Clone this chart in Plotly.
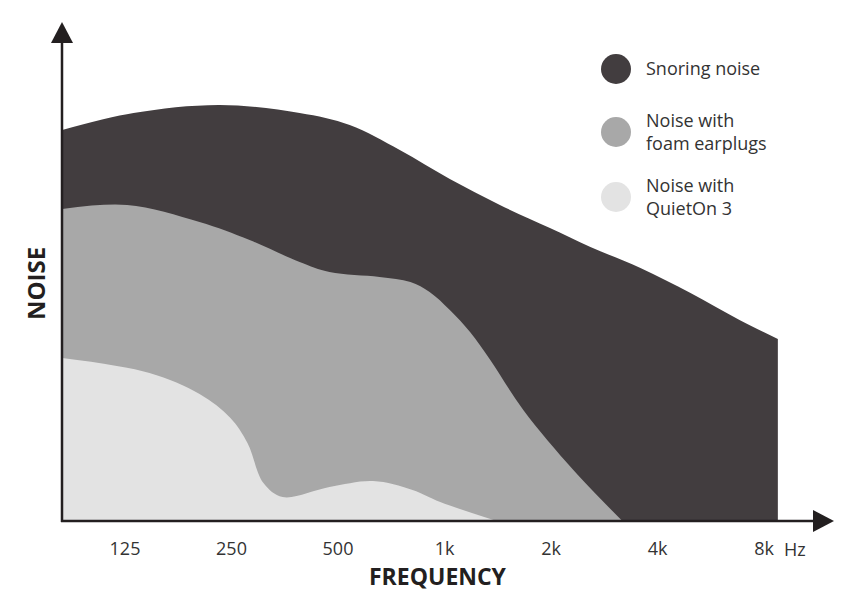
import plotly.graph_objects as go

# x positions in octave steps from 125 Hz (0 = 125 Hz, 6 = 8 kHz)
tick_labels = ["125", "250", "500", "1k", "2k", "4k", "8k"]
tick_pos = [0, 1, 2, 3, 4, 5, 6]

snoring_x = [-0.59, 0.08, 0.89, 1.64, 2.11, 2.58, 3.05, 3.52, 3.99, 4.37, 4.84, 5.31, 5.77, 6.13]
snoring_y = [391, 408, 416, 408, 396, 371, 342, 316, 293, 274, 253, 228, 201, 182]

foam_x = [-0.59, 0.02, 0.70, 1.17, 1.64, 1.92, 2.39, 2.68, 2.86, 3.05, 3.24, 3.43, 3.74, 4.21, 4.67]
foam_y = [312, 316, 299, 281, 259, 249, 244, 239, 229, 211, 189, 161, 111, 51, 0]

quieton_x = [-0.59, 0.23, 0.70, 0.99, 1.15, 1.30, 1.48, 1.92, 2.33, 2.70, 2.96, 3.49]
quieton_y = [163, 148, 127, 103, 78, 38, 24, 34, 40, 31, 19, 0]

series_names = ["Snoring noise", "Noise with<br>foam earplugs", "Noise with<br>QuietOn 3"]
colors = ["#423d3f", "#a8a8a8", "#e3e3e3"]
axis_color = "#231f20"
text_color = "#333333"
FONT = "Open Sans"

W, H = 858, 609
L, R, T, B = 62, 43, 35, 88
PW, PH = W - L - R, H - T - B


def px(x):
    return (x - L) / PW


def py(y):
    return (H - B - y) / PH


fig = go.Figure()
for xs, ys, name, c in [(snoring_x, snoring_y, series_names[0], colors[0]),
                        (foam_x, foam_y, series_names[1], colors[1]),
                        (quieton_x, quieton_y, series_names[2], colors[2])]:
    fig.add_trace(go.Scatter(
        x=xs, y=ys, name=name.replace("<br>", " "), mode="lines",
        line=dict(color=c, width=0, shape="spline", smoothing=1.0),
        fill="tozeroy", fillcolor=c, showlegend=False, hoverinfo="skip"))

shapes = []
# axes lines
shapes.append(dict(type="line", xref="paper", yref="paper", x0=px(62), x1=px(62),
                   y0=py(522), y1=py(40), line=dict(color=axis_color, width=2.5)))
shapes.append(dict(type="line", xref="paper", yref="paper", x0=px(61), x1=px(816),
                   y0=py(521), y1=py(521), line=dict(color=axis_color, width=2.5)))
# arrow heads
shapes.append(dict(type="path", xref="paper", yref="paper",
                   path=f"M {px(51)} {py(43)} L {px(73)} {py(43)} L {px(62)} {py(22)} Z",
                   fillcolor=axis_color, line=dict(width=0)))
shapes.append(dict(type="path", xref="paper", yref="paper",
                   path=f"M {px(813)} {py(510)} L {px(813)} {py(532)} L {px(834)} {py(521)} Z",
                   fillcolor=axis_color, line=dict(width=0)))

annotations = []
# legend
leg_y = [69, 132, 197]
for yy, name, c in zip(leg_y, series_names, colors):
    r = 15
    shapes.append(dict(type="circle", xref="paper", yref="paper",
                       x0=px(616 - r), x1=px(616 + r), y0=py(yy + r), y1=py(yy - r),
                       fillcolor=c, line=dict(width=0)))
    annotations.append(dict(xref="paper", yref="paper", x=px(644), y=py(yy - 1),
                            xanchor="left", yanchor="middle", showarrow=False, align="left",
                            text=name, font=dict(family=FONT, size=18, color=text_color)))

annotations.append(dict(xref="paper", yref="paper", x=px(795), y=py(549), text="Hz",
                        showarrow=False, xanchor="center", yanchor="middle",
                        font=dict(family=FONT, size=18, color=text_color)))
annotations.append(dict(xref="paper", yref="paper", x=px(438), y=py(576), text="<b>FREQUENCY</b>",
                        showarrow=False, xanchor="center", yanchor="middle",
                        font=dict(family=FONT, size=23, color=axis_color)))
annotations.append(dict(xref="paper", yref="paper", x=px(35), y=py(284), text="<b>NOISE</b>",
                        showarrow=False, xanchor="center", yanchor="middle", textangle=-90,
                        font=dict(family=FONT, size=24, color=axis_color)))

fig.update_layout(
    width=W, height=H, margin=dict(l=L, r=R, t=T, b=B),
    paper_bgcolor="white", plot_bgcolor="white",
    shapes=shapes, annotations=annotations,
    xaxis=dict(range=[(62 - 125) / 106.5, (815 - 125) / 106.5], tickvals=tick_pos,
               ticktext=tick_labels, showgrid=False, zeroline=False, showline=False,
               ticks="", ticklabelstandoff=15,
               tickfont=dict(family=FONT, size=18, color=text_color), fixedrange=True),
    yaxis=dict(range=[0, PH], showgrid=False, zeroline=False, showline=False,
               showticklabels=False, ticks="", fixedrange=True),
    font=dict(family=FONT),
)

fig.write_html("out.html")
